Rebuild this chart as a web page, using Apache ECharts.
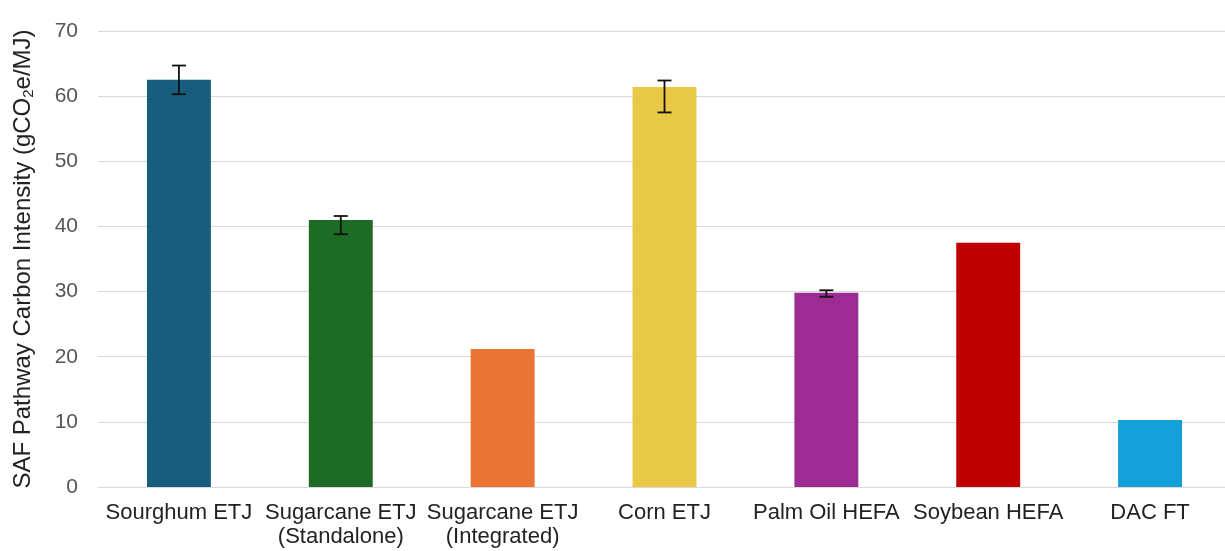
<!DOCTYPE html>
<html><head><meta charset="utf-8">
<script src="https://cdn.jsdelivr.net/npm/echarts@6/dist/echarts.min.js"></script>
<style>html,body{margin:0;padding:0;background:#fff}#c{width:1225px;height:551px}</style>
</head><body><div id="c"></div>
<script>
const categories = ['Sourghum ETJ', 'Sugarcane ETJ\n(Standalone)', 'Sugarcane ETJ\n(Integrated)', 'Corn ETJ', 'Palm Oil HEFA', 'Soybean HEFA', 'DAC FT'];
const values = [62.5, 41.0, 21.2, 61.4, 29.8, 37.5, 10.3];
const errLow = [60.3, 38.8, null, 57.5, 29.2, null, null];
const errHigh = [64.7, 41.6, null, 62.4, 30.2, null, null];
const barColors = ['#175E7E', '#1E6B26', '#EA7434', '#E8C845', '#9C2B93', '#C00000', '#139FD8'];
const yTicks = [0, 10, 20, 30, 40, 50, 60, 70];

const errData = categories.map((c, i) => errLow[i] == null ? null : [i, errLow[i], errHigh[i]]).filter(d => d);

const FF = 'Liberation Sans, Arial';
const chart = echarts.init(document.getElementById('c'));
chart.setOption({
  animation: false,
  grid: { left: 98, right: -6, top: 31, bottom: 64, containLabel: false, outerBoundsMode: 'none' },
  xAxis: {
    type: 'category', data: categories,
    axisLine: { lineStyle: { color: '#d9d9d9', width: 1 } },
    axisTick: { show: false },
    axisLabel: { color: '#222', fontSize: 22, fontFamily: FF, margin: 14, lineHeight: 24, interval: 0 }
  },
  yAxis: {
    type: 'value', min: yTicks[0], max: yTicks[yTicks.length - 1], interval: 10,
    name: '{a|SAF Pathway Carbon Intensity (gCO}{s|2}{a|e/MJ)}',
    nameLocation: 'middle', nameGap: 62, nameRotate: 90,
    nameTextStyle: { rich: { a: { fontSize: 24, color: '#222', fontFamily: FF }, s: { fontSize: 15, color: '#222', fontFamily: FF, verticalAlign: 'bottom', padding: [11, 0, 0, 0] } } },
    axisLine: { show: false }, axisTick: { show: false },
    axisLabel: { color: '#555', fontSize: 21, fontFamily: FF, margin: 20 },
    splitLine: { lineStyle: { color: '#d9d9d9', width: 1 } }
  },
  series: [
    {
      type: 'bar', barWidth: '39.5%',
      data: values.map((v, i) => ({ value: v, itemStyle: { color: barColors[i] } }))
    },
    {
      type: 'custom', data: errData, z: 10,
      renderItem: function (params, api) {
        const x = api.value(0);
        const lo = api.coord([x, api.value(1)]);
        const hi = api.coord([x, api.value(2)]);
        const hw = 7;
        const st = { stroke: '#111', lineWidth: 1.8 };
        return { type: 'group', children: [
          { type: 'line', shape: { x1: lo[0], y1: lo[1], x2: hi[0], y2: hi[1] }, style: st },
          { type: 'line', shape: { x1: lo[0] - hw, y1: lo[1], x2: lo[0] + hw, y2: lo[1] }, style: st },
          { type: 'line', shape: { x1: hi[0] - hw, y1: hi[1], x2: hi[0] + hw, y2: hi[1] }, style: st }
        ] };
      }
    }
  ]
});
</script></body></html>
